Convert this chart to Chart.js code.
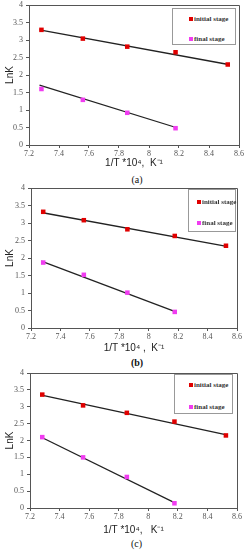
<!DOCTYPE html>
<html lang="en">
<head>
<meta charset="UTF-8" />
<title>LnK vs 1/T</title>
<script src="https://cdn.jsdelivr.net/npm/chart.js"></script>
<style>
  body { margin: 0; width: 245px; height: 550px; overflow: hidden; background: #fff; position: relative; font-family: Arial, sans-serif; }
  canvas { position: absolute; left: 0; }
  .legend { position: absolute; box-sizing: border-box; border: 1px solid #999; background: #fff; font-family: "Liberation Serif", serif; font-size: 7px; font-weight: bold; color: #333; }
  .legend div { position: absolute; white-space: nowrap; line-height: 8px; transform: translateY(-50%); }
  .legend span { display: inline-block; width: 4px; height: 4px; margin-right: 1px; vertical-align: 0; }
  .caption { position: absolute; font-family: "Liberation Serif", serif; font-size: 10px; color: #111; transform: translate(-50%, -50%); }
</style>
</head>
<body>
<script>
  // 1/T * 10^4 (K^-1)
  const xTemp = [7.283, 7.559, 7.855, 8.177, 8.525];
  const fitXInitial = [7.27, 8.53];
  const fitXFinal = [7.27, 8.18];
  const seriesNames = ["initial stage", "final stage"];

  // (a)
  const aInitial = [3.29, 3.04, 2.81, 2.65, 2.30];
  const aFinal = [1.60, 1.29, 0.92, 0.48];
  const aInitialFit = [3.29, 2.30];
  const aFinalFit = [1.71, 0.50];
  // (b)
  const bInitial = [3.32, 3.08, 2.82, 2.63, 2.35];
  const bFinal = [1.87, 1.52, 1.01, 0.46];
  const bInitialFit = [3.30, 2.33];
  const bFinalFit = [1.91, 0.47];
  // (c)
  const cInitial = [3.36, 3.04, 2.82, 2.56, 2.15];
  const cFinal = [2.10, 1.50, 0.92, 0.14];
  const cInitialFit = [3.35, 2.17];
  const cFinalFit = [2.11, 0.15];

  const RED = "#e00000";
  const MAGENTA = "#f03cf0";

  // where each plot area sits on the page
  const panels = [
    { cap: "(a)", bold: false, xTitle: "1/T *10\u2074,  K\u207B\u00B9", init: aInitial, fin: aFinal, initFit: aInitialFit, finFit: aFinalFit,
      left: 29, right: 239, top: 5, bottom: 145, xh: 25, capY: 179,
      leg: { x: 172, y: 8, w: 64, h: 37, mx: 16, y1: 10, y2: 30 } },
    { cap: "(b)", bold: true, xTitle: "1/T *10\u2074 ,  K\u207B\u00B9", init: bInitial, fin: bFinal, initFit: bInitialFit, finFit: bFinalFit,
      left: 31, right: 237, top: 188, bottom: 328, xh: 27, capY: 362,
      leg: { x: 188, y: 189, w: 48, h: 43, mx: 8, y1: 12, y2: 33 } },
    { cap: "(c)", bold: false, xTitle: "1/T *10\u2074,   K\u207B\u00B9", init: cInitial, fin: cFinal, initFit: cInitialFit, finFit: cFinalFit,
      left: 30, right: 237, top: 373, bottom: 508, xh: 29, capY: 543,
      leg: { x: 174, y: 374, w: 59, h: 40, mx: 14, y1: 10, y2: 32 } },
  ];

  function pts(xs, ys) {
    return ys.map((y, i) => ({ x: xs[i], y: y }));
  }

  // "8" not "8.0", "1" not "1.0"
  const plainLabel = (v) => String(Math.round(v * 100) / 100);

  // top + right edge of the plot box
  const frame = {
    id: "frame",
    beforeDatasetsDraw(chart) {
      const { ctx, chartArea: a } = chart;
      ctx.save();
      ctx.strokeStyle = "#555";
      ctx.lineWidth = 1;
      ctx.beginPath();
      ctx.moveTo(Math.round(a.left), Math.round(a.top) + 0.5);
      ctx.lineTo(Math.round(a.right) + 0.5, Math.round(a.top) + 0.5);
      ctx.lineTo(Math.round(a.right) + 0.5, Math.round(a.bottom));
      ctx.stroke();
      ctx.restore();
    },
  };

  const tickFont = { family: "Liberation Serif", size: 8 };

  panels.forEach((p) => {
    const pad = 8;
    const canvas = document.createElement("canvas");
    canvas.width = p.right + 12;
    canvas.height = pad + (p.bottom - p.top) + p.xh;
    canvas.style.top = p.top - pad + "px";
    document.body.appendChild(canvas);

    new Chart(canvas, {
      type: "scatter",
      data: {
        datasets: [
          { label: seriesNames[0], data: pts(xTemp, p.init), pointStyle: "rect", pointRadius: 3.2,
            backgroundColor: RED, borderColor: RED, borderWidth: 0, order: 0 },
          { label: seriesNames[1], data: pts(xTemp, p.fin), pointStyle: "rect", pointRadius: 3.2,
            backgroundColor: MAGENTA, borderColor: MAGENTA, borderWidth: 0, order: 0 },
          { label: "fit1", data: pts(fitXInitial, p.initFit), showLine: true, borderColor: "#222",
            borderWidth: 1.3, pointRadius: 0, order: 1 },
          { label: "fit2", data: pts(fitXFinal, p.finFit), showLine: true, borderColor: "#222",
            borderWidth: 1.3, pointRadius: 0, order: 1 },
        ],
      },
      options: {
        responsive: false,
        animation: false,
        devicePixelRatio: 1,
        layout: { padding: { top: pad, right: 12, left: 0, bottom: 0 } },
        plugins: { legend: { display: false }, tooltip: { enabled: false } },
        scales: {
          x: {
            type: "linear", min: 7.2, max: 8.6,
            ticks: { stepSize: 0.2, font: tickFont, color: "#555", padding: 1, maxRotation: 0, autoSkip: false, callback: plainLabel },
            grid: { drawOnChartArea: false, tickLength: 3, color: "#555" },
            border: { color: "#555" },
            title: { display: true, text: p.xTitle, font: { family: "Arial", size: 10 }, color: "#222", padding: { top: 0, bottom: 1 } },
            afterFit: (s) => { s.height = p.xh; },
          },
          y: {
            type: "linear", min: 0, max: 4,
            ticks: { stepSize: 0.5, font: tickFont, color: "#555", padding: 3, callback: plainLabel },
            grid: { drawOnChartArea: false, tickLength: 3, color: "#555" },
            border: { color: "#555" },
            title: { display: true, text: "LnK", font: { family: "Arial", size: 10 }, color: "#222", padding: { top: 4, bottom: 0 } },
            afterFit: (s) => { s.width = p.left; },
          },
        },
      },
      plugins: [frame],
    });

    // legend box
    const leg = document.createElement("div");
    leg.className = "legend";
    leg.style.left = p.leg.x + "px";
    leg.style.top = p.leg.y + "px";
    leg.style.width = p.leg.w + "px";
    leg.style.height = p.leg.h + "px";
    [[p.leg.y1, RED], [p.leg.y2, MAGENTA]].forEach(([yy, col], i) => {
      const row = document.createElement("div");
      row.style.left = p.leg.mx + "px";
      row.style.top = yy + "px";
      row.innerHTML = '<span style="background:' + col + '"></span>' + seriesNames[i];
      leg.appendChild(row);
    });
    document.body.appendChild(leg);

    const cap = document.createElement("div");
    cap.className = "caption";
    cap.textContent = p.cap;
    cap.style.left = (p.left + p.right) / 2 + 3 + "px";
    cap.style.top = p.capY + "px";
    if (p.bold) cap.style.fontWeight = "bold";
    document.body.appendChild(cap);
  });
</script>
</body>
</html>
